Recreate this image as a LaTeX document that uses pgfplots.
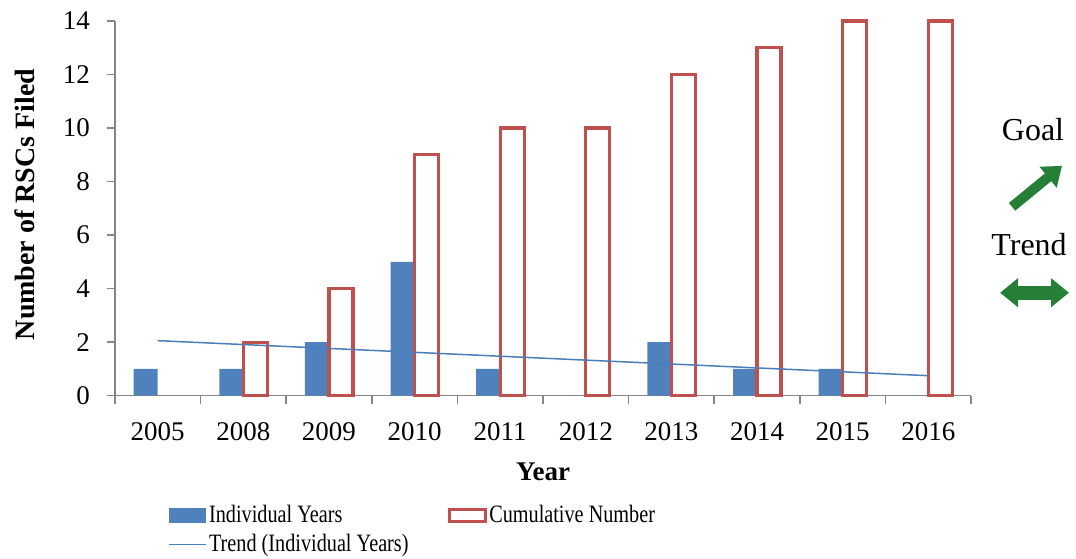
\documentclass[border=0pt]{standalone}
\usepackage{pgfplots}
\pgfplotsset{compat=1.18}
\usepackage{fontspec}
\setmainfont{Liberation Serif}
\newfontfamily\legfont[FakeStretch=0.81]{Liberation Serif}
\usetikzlibrary{arrows.meta}
\definecolor{barblue}{HTML}{4F81BD}
\definecolor{barred}{HTML}{C0504D}
\definecolor{trendblue}{HTML}{4A7EBB}
\definecolor{axgray}{HTML}{868686}
\definecolor{arrgreen}{HTML}{267F37}
\begin{document}
\begin{tikzpicture}
\begin{axis}[
  at={(0pt,0pt)}, anchor=south west,
  width=428.5pt, height=187.5pt, scale only axis,
  clip=false,
  ybar=0pt, bar width=12pt,
  xmin=-0.5, xmax=9.5, ymin=0, ymax=14,
  axis lines=left, axis line style={-, draw=axgray, line width=0.8pt},
  tick align=outside,
  xtick={0,...,9},
  xticklabels={2005,2008,2009,2010,2011,2012,2013,2014,2015,2016},
  major x tick style={draw=none},
  minor xtick={-0.5,0.5,...,9.5},
  minor x tick style={draw=axgray, line width=0.8pt},
  minor tick length=4pt,
  ytick={0,2,...,14},
  y tick style={draw=axgray, line width=0.8pt},
  major tick length=4pt,
  tick label style={font=\fontsize{13.5}{15}\selectfont},
  xticklabel style={yshift=-6pt},
  yticklabel style={xshift=-5pt},
  /pgf/number format/assume math mode=true,
  xlabel={Year},
  ylabel={Number of RSCs Filed},
  every axis x label/.style={at={(axis description cs:0.5,-0.204)}, anchor=center, font=\bfseries\fontsize{13.5}{15}\selectfont},
  every axis y label/.style={at={(axis description cs:-0.105,0.51)}, rotate=90, anchor=center, font=\bfseries\fontsize{14}{16}\selectfont},
  legend columns=2,
  legend style={at={(axis description cs:0.0618,-0.285)}, anchor=north west,
    draw=none, fill=none, inner sep=0pt, row sep=2pt,
    font=\legfont\fontsize{12.5}{14}\selectfont,
    cells={anchor=west},
    nodes={inner sep=1.2pt},
    /tikz/every even column/.append style={column sep=18.5pt}},
]
\addplot[fill=barblue, draw=none,
  legend image code/.code={\fill[barblue] (0pt,-3.75pt) rectangle (18.5pt,3.75pt);}]
  coordinates {(0,1) (1,1) (2,2) (3,5) (4,1) (5,0) (6,2) (7,1) (8,1) (9,0)};
\addlegendentry{Individual Years}
\addplot[fill=white, draw=barred, line width=1.6pt,
  legend image code/.code={\draw[barred, line width=1.6pt, fill=white] (0.8pt,-3pt) rectangle (18.7pt,3pt);}]
  coordinates {(1,2) (2,4) (3,9) (4,10) (5,10) (6,12) (7,13) (8,14) (9,14)};
\addlegendentry{Cumulative Number}
\addplot[sharp plot, draw=trendblue, line width=0.75pt, no marks,
  legend image code/.code={\draw[trendblue, line width=0.75pt] (0pt,0pt) -- (18.5pt,0pt);}]
  coordinates {(0,2.055) (9,0.745)};
\addlegendentry{Trend (Individual Years)}
\end{axis}
\node[font=\fontsize{16}{18}\selectfont] at (459.5pt,133pt) {Goal};
\draw[arrgreen, line width=5pt, -{Triangle[length=9pt,width=13pt]}] (449pt,94.5pt) -- (474pt,115pt);
\node[font=\fontsize{16}{18}\selectfont] at (457.5pt,75.5pt) {Trend};
\draw[arrgreen, line width=7pt, {Triangle[length=9pt,width=14pt]}-{Triangle[length=9pt,width=14pt]}] (443pt,51.5pt) -- (477.5pt,51.5pt);
\path (-57.5pt,-81.5pt) rectangle (480.5pt,198pt);
\end{tikzpicture}
\end{document}
